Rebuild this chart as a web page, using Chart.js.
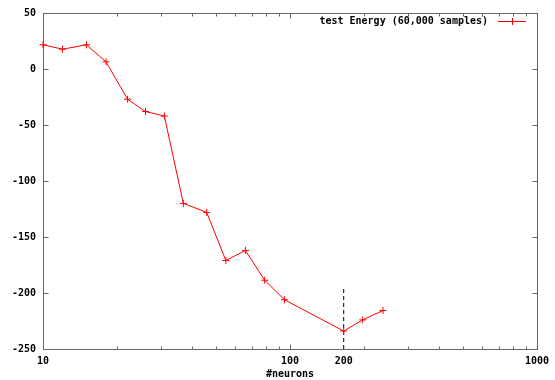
<!DOCTYPE html>
<html>
<head>
<meta charset="utf-8">
<script src="https://cdn.jsdelivr.net/npm/chart.js@4/dist/chart.umd.min.js"></script>
<style>
html, body { margin: 0; padding: 0; background: #fff; }
</style>
</head>
<body>
<canvas id="mychart" width="555" height="380"></canvas>
<script>
// values
const neurons = [10, 12, 15, 18, 22, 26, 31, 37, 46, 55, 66, 79, 95, 165, 197, 238];
const energy = [21.6, 17.7, 21.6, 6.4, -27, -38, -42, -120, -128, -171, -162, -188.6, -206, -234, -224, -215.6];
const markerX = [165, 165];
const markerY = [-250, -196];
const xTickValues = [10, 100, 165, 1000];
const xTickLabels = ['10', '100', '200', '1000'];
const xMajorTicks = [10, 100, 1000];
const yTickValues = [-250, -200, -150, -100, -50, 0, 50];
const seriesLabel = 'test Energy (60,000 samples)';

const ctx = document.getElementById('mychart');
const monoFont = { family: '"DejaVu Sans Mono", monospace', size: 10, weight: 'bold' };
const fontStr = 'bold 10px "DejaVu Sans Mono", monospace';

// gnuplot style box with inward ticks + legend
const frame = {
    id: 'frame',
    beforeDatasetsDraw(chart) {
        const c = chart.ctx;
        const a = chart.chartArea;
        const xs = chart.scales.x, ys = chart.scales.y;
        const L = Math.round(a.left) + 0.5, R = Math.round(a.right) + 0.5;
        const T = Math.round(a.top) + 0.5, B = Math.round(a.bottom) + 0.5;
        c.save();
        c.strokeStyle = '#666';
        c.lineWidth = 1;
        c.strokeRect(L, T, R - L, B - T);
        c.beginPath();
        for (const v of yTickValues) {
            const y = Math.round(ys.getPixelForValue(v)) + 0.5;
            c.moveTo(L, y); c.lineTo(L + 5, y);
            c.moveTo(R, y); c.lineTo(R - 5, y);
        }
        for (const v of xMajorTicks) {
            const x = Math.round(xs.getPixelForValue(v)) + 0.5;
            c.moveTo(x, B); c.lineTo(x, B - 5);
            c.moveTo(x, T); c.lineTo(x, T + 5);
        }
        for (let d = 10; d < 1000; d *= 10) {
            for (let k = 2; k < 10; k++) {
                const x = Math.round(xs.getPixelForValue(k * d)) + 0.5;
                c.moveTo(x, B); c.lineTo(x, B - 3);
                c.moveTo(x, T); c.lineTo(x, T + 3);
            }
        }
        c.stroke();

        // legend
        c.font = fontStr;
        c.fillStyle = '#000';
        c.textAlign = 'right';
        c.textBaseline = 'middle';
        c.fillText(seriesLabel, 488, 21);
        c.strokeStyle = '#ff0000';
        c.beginPath();
        c.moveTo(498, 21.5); c.lineTo(526, 21.5);
        c.moveTo(512.5, 18); c.lineTo(512.5, 25);
        c.stroke();
        c.restore();
    }
};

const mychart = new Chart(ctx, {
    type: 'scatter',
    data: {
        datasets: [{
            label: seriesLabel,
            data: neurons.map((v, i) => ({ x: v, y: energy[i] })),
            showLine: true,
            borderColor: '#ff0000',
            backgroundColor: '#ff0000',
            borderWidth: 1,
            pointStyle: 'cross',
            pointRadius: 3.5,
            pointBorderWidth: 1,
            tension: 0,
            clip: false
        }, {
            label: 'marker',
            data: markerX.map((v, i) => ({ x: v, y: markerY[i] })),
            showLine: true,
            borderColor: '#000',
            borderWidth: 1,
            borderDash: [4, 3],
            pointRadius: 0
        }]
    },
    options: {
        responsive: false,
        animation: false,
        layout: { padding: { left: 0, right: 17, top: 12, bottom: 0 } },
        plugins: { legend: { display: false }, tooltip: { enabled: false } },
        scales: {
            x: {
                type: 'logarithmic',
                min: 10,
                max: 1000,
                afterBuildTicks: s => { s.ticks = xTickValues.map(v => ({ value: v })); },
                afterFit: s => { s.height = 31; },
                grid: { display: false, drawTicks: false },
                border: { display: false },
                ticks: {
                    autoSkip: false,
                    maxRotation: 0,
                    padding: 6,
                    color: '#000',
                    font: monoFont,
                    callback: (v, i) => xTickLabels[i]
                },
                title: {
                    display: true,
                    text: '#neurons',
                    color: '#000',
                    font: monoFont,
                    padding: { top: 0, bottom: 0 }
                }
            },
            y: {
                min: -250,
                max: 50,
                afterBuildTicks: s => { s.ticks = yTickValues.map(v => ({ value: v })); },
                afterFit: s => { s.width = 43; },
                grid: { display: false, drawTicks: false },
                border: { display: false },
                ticks: {
                    padding: 7,
                    color: '#000',
                    font: monoFont
                }
            }
        }
    },
    plugins: [frame]
});
</script>
</body>
</html>
